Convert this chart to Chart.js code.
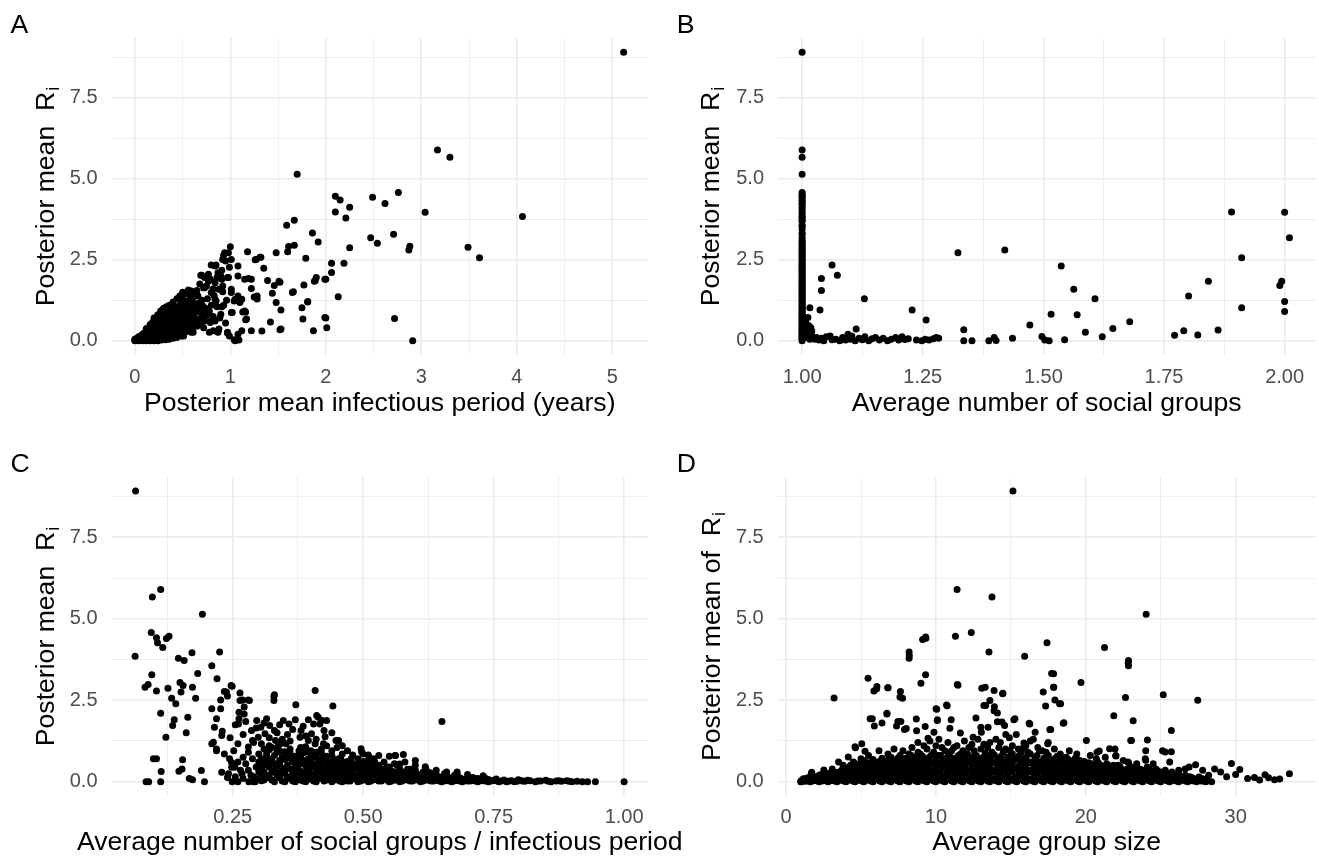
<!DOCTYPE html>
<html lang="en">

<head>
    <meta charset="UTF-8">
    <title>Posterior mean R_i scatter panels</title>
    <script src="https://cdn.jsdelivr.net/npm/chart.js"></script>
    <style>
        body { margin: 0; background: #ffffff; }
        #wrap { position: relative; width: 1319px; height: 859px; overflow: hidden; }
        #wrap canvas { position: absolute; }
    </style>
</head>

<body>
    <div id="wrap">
        <canvas id="panelA" width="660" height="430" style="left:0;top:0"></canvas>
        <canvas id="panelB" width="659" height="430" style="left:660px;top:0"></canvas>
        <canvas id="panelC" width="720" height="429" style="left:0;top:430px"></canvas>
        <canvas id="panelD" width="659" height="429" style="left:660px;top:430px"></canvas>
    </div>

    <script>
        // shared y axis (posterior mean R_i)
        const yMajor = [0, 2.5, 5, 7.5];
        const yMinor = [1.25, 3.75, 6.25, 8.75];
        const yLabels = ['0.0', '2.5', '5.0', '7.5'];

        // x axis ticks per panel
        const xMajorA = [0, 1, 2, 3, 4, 5];
        const xMinorA = [0.5, 1.5, 2.5, 3.5, 4.5];
        const xLabelsA = ['0', '1', '2', '3', '4', '5'];

        const xMajorB = [1, 1.25, 1.5, 1.75, 2];
        const xMinorB = [1.125, 1.375, 1.625, 1.875];
        const xLabelsB = ['1.00', '1.25', '1.50', '1.75', '2.00'];

        const xMajorC = [0.25, 0.5, 0.75, 1];
        const xMinorC = [0.125, 0.375, 0.625, 0.875];
        const xLabelsC = ['0.25', '0.50', '0.75', '1.00'];

        const xMajorD = [0, 10, 20, 30];
        const xMinorD = [5, 15, 25];
        const xLabelsD = ['0', '10', '20', '30'];

        // A: infectious period (years) vs R_i
        const ptsA = [
            [5.12,8.91],[3.17,5.89],[3.30,5.67],[1.70,5.14],[2.76,4.58],[2.49,4.43],[2.10,4.46],[2.15,4.35],[2.62,4.24],[2.25,4.12],
            [2.10,3.98],[3.04,3.97],[4.06,3.84],[2.21,3.79],[1.67,3.72],[1.59,3.57],[1.86,3.33],[2.71,3.29],[2.47,3.18],[2.54,3.01],
            [1.92,3.05],[1.67,2.95],[1.61,2.91],[2.88,2.92],[2.87,2.80],[3.49,2.89],[2.25,2.87],[1.60,2.75],[1.48,2.72],[3.61,2.56],
            [1.79,2.55],[1.31,2.58],[1.26,2.50],[1.18,2.75],[1.35,2.24],[2.06,2.39],[2.06,2.11],[2.00,1.90],[1.90,1.95],[1.89,1.86],
            [1.77,1.72],[1.66,1.51],[1.39,1.86],[1.46,1.71],[1.52,1.81],[1.44,1.47],[1.48,1.18],[1.53,0.95],[2.13,1.36],[1.81,1.21],
            [1.75,1.02],[1.76,0.67],[2.00,0.70],[2.01,0.40],[1.87,0.31],[2.72,0.69],[2.91,0.00],[1.42,0.58],[1.52,0.34],[1.33,0.30],
            [1.22,0.31],[1.19,1.92],[1.22,1.61],[1.25,1.35],[1.28,1.29],[1.13,0.89],[1.16,0.65],[1.12,0.31],[1.09,0.02],[1.04,0.03],
            [1.00,2.90],[0.98,2.72],[0.93,2.64],[1.08,2.31],[1.08,2.00],[0.99,2.27],[0.95,2.46],[0.80,2.34],[0.85,2.34],[0.69,2.02],
            [0.79,1.90],[0.86,1.95],[0.90,2.00],[0.97,1.95],[0.88,1.59],[0.92,1.69],[1.01,1.49],[1.08,1.33],[1.04,1.23],[1.10,1.18],
            [1.15,0.92],[1.01,0.87],[0.93,1.10],[0.85,1.23],[0.75,1.69],[0.72,1.64],[0.80,1.49],[0.71,1.08],[0.65,1.13],[0.59,1.54],
            [0.63,1.38],[0.56,1.49],[0.75,0.77],[0.84,0.61],[0.79,0.56],[0.72,0.67],[0.64,0.61],[0.61,0.77],[0.78,0.26],[0.88,0.36],
            [0.87,0.26],[0.97,0.26],[0.61,0.26],[0.51,0.15],[0.50,0.41],[0.44,0.92],[0.47,1.33],[0.53,0.87],[0.55,1.23],[0.40,0.10],
            [0.94,2.72],[0.92,2.51],[1.01,2.51],[0.84,2.31],[0.91,2.18],[0.87,2.10],[0.70,2.02],[0.77,1.84],[0.84,1.79],[0.91,1.90],
            [0.98,1.95],[1.15,1.90],[1.22,1.90],[1.32,2.58],[1.27,2.51],[1.51,1.84],[1.65,1.49],[1.81,1.20],[1.99,0.72],[1.88,1.84],
            [1.99,1.90],[2.19,2.39],[1.53,0.36],[1.17,0.67],[1.16,0.89],[1.28,1.38],[1.08,1.38],[1.12,1.28],[1.05,1.28],[1.02,0.87],
            [1.08,0.20],[1.05,0.00],[0.97,0.24],[0.99,0.15],[0.87,0.28],[0.82,0.31],[0.90,0.82],[0.91,1.05],[0.92,1.51],[1.01,1.59],
            [0.73,1.64],[0.84,1.28],[0.77,0.87],[0.70,0.87],[0.63,1.08],[0.66,1.38],[0.56,1.57],[0.59,1.28],[0.80,0.61],[0.73,0.61],
            [0.59,0.26],[0.49,0.15],[0.56,0.46],
            [0.52,0.25],[0.54,0.6],[0.57,0.3],[0.6,0.4],[0.62,0.9],[0.65,0.45],[0.67,1.0],[0.68,0.5],[0.7,1.25],[0.72,0.4],
            [0.74,1.0],[0.76,1.3],[0.78,0.9],[0.8,1.1],[0.82,0.75],[0.83,1.4],[0.86,1.05],[0.89,0.7],[0.95,0.55],[0.96,1.25],
            [0.62,1.5],[0.68,1.75],[0.73,1.95],[0.77,2.05],[0.82,1.6],[0.65,1.55],[0.58,1.4],[0.53,1.45],[0.5,1.5]
        ];
        // A: the dense wedge of short infectious periods near the origin
        const wedgeA = [
            [0,0],[0,0.02],[0,0.05],[0.02,0.01],[0.02,0.04],[0.02,0.08],[0.04,0],[0.04,0.06],[0.04,0.12],[0.06,0.02],
            [0.06,0.1],[0.06,0.15],[0.08,0],[0.08,0.05],[0.08,0.14],[0.08,0.2],[0.1,0.02],[0.1,0.1],[0.1,0.18],[0.1,0.25],
            [0.12,0],[0.12,0.08],[0.12,0.2],[0.12,0.3],[0.12,0.38],[0.14,0.03],[0.14,0.15],[0.14,0.26],[0.14,0.35],[0.16,0],
            [0.16,0.1],[0.16,0.22],[0.16,0.33],[0.16,0.42],[0.16,0.5],[0.18,0.05],[0.18,0.18],[0.18,0.3],[0.18,0.45],[0.18,0.55],
            [0.2,0],[0.2,0.12],[0.2,0.25],[0.2,0.38],[0.2,0.5],[0.2,0.62],[0.2,0.7],[0.22,0.04],[0.22,0.2],[0.22,0.33],
            [0.22,0.47],[0.22,0.6],[0.22,0.7],[0.24,0],[0.24,0.15],[0.24,0.28],[0.24,0.42],[0.24,0.55],[0.24,0.68],[0.24,0.8],
            [0.26,0.05],[0.26,0.22],[0.26,0.36],[0.26,0.5],[0.26,0.64],[0.26,0.78],[0.27,0.92],[0.28,0.02],[0.28,0.12],[0.28,0.3],
            [0.28,0.45],[0.28,0.6],[0.28,0.72],[0.3,0.08],[0.3,0.2],[0.3,0.38],[0.3,0.52],[0.3,0.67],[0.3,0.85],[0.3,1.0],
            [0.32,0.03],[0.32,0.15],[0.32,0.3],[0.32,0.46],[0.32,0.6],[0.32,0.75],[0.32,0.9],[0.33,1.05],[0.34,0.1],[0.34,0.25],
            [0.34,0.4],[0.34,0.55],[0.34,0.7],[0.34,0.82],[0.36,0.05],[0.36,0.18],[0.36,0.34],[0.36,0.5],[0.36,0.65],[0.36,0.8],
            [0.36,0.95],[0.36,1.1],[0.38,0.12],[0.38,0.28],[0.38,0.45],[0.38,0.6],[0.38,0.75],[0.38,0.9],[0.4,0.08],[0.4,0.22],
            [0.4,0.38],[0.4,0.55],[0.4,0.7],[0.4,0.85],[0.4,1.0],[0.4,1.2],[0.42,0.15],[0.42,0.32],[0.42,0.5],[0.42,0.66],
            [0.42,0.8],[0.42,0.95],[0.44,0.1],[0.44,0.26],[0.44,0.44],[0.44,0.6],[0.44,0.75],[0.44,1.05],[0.44,1.3],[0.46,0.2],
            [0.46,0.38],[0.46,0.55],[0.46,0.72],[0.46,0.88],[0.46,1.02],[0.47,1.38],[0.48,0.3],[0.48,0.48],[0.48,0.65],[0.48,0.82],
            [0.48,0.98],[0.48,1.15],[0.5,0.35],[0.5,0.6],[0.5,0.78],[0.5,0.95],[0.5,1.1],[0.5,1.3],[0.52,0.4],[0.52,0.7],
            [0.52,0.9],[0.52,1.05],[0.55,0.5],[0.55,0.75],[0.55,1.0],[0.55,1.2],[0.58,0.55],[0.58,0.85],[0.58,1.1],[0.6,0.6],
            [0.6,0.95],[0.6,1.25],[0.63,0.7],[0.63,1.0],[0.66,0.65],[0.66,0.9],[0.66,1.15],[0.7,0.8],[0.7,1.05],
            [0.03,0.03],[0.07,0.08],[0.11,0.14],[0.13,0.24],[0.15,0.08],[0.17,0.28],[0.19,0.38],[0.21,0.08],[0.23,0.35],[0.25,0.58],
            [0.27,0.15],[0.29,0.52],[0.31,0.78],[0.33,0.22],[0.35,0.62],[0.37,0.88],[0.39,0.35],[0.41,0.6],[0.43,0.88],[0.45,0.5]
        ];

        // B: average number of social groups vs R_i
        // the column of animals that stayed in one group (x = 1.00)
        const colBY = [
            0,0.03,0.06,0.1,0.13,0.17,0.2,0.24,0.27,0.31,0.35,0.38,0.42,0.46,0.5,0.54,0.58,0.62,0.66,0.7,
            0.74,0.78,0.82,0.86,0.9,0.95,0.99,1.03,1.08,1.12,1.16,1.21,1.25,1.3,1.34,1.39,1.43,1.48,1.52,1.57,
            1.61,1.66,1.7,1.75,1.8,1.84,1.89,1.94,1.98,2.03,2.08,2.13,2.17,2.22,2.27,2.32,2.36,2.41,2.46,2.51,
            2.56,2.61,2.66,2.71,2.75,2.8,2.85,2.9,2.95,3.0,3.04,3.1,3.18,3.29,3.33,3.45,3.54,3.57,3.69,3.72,
            3.79,3.84,3.92,3.98,4.05,4.12,4.2,4.24,4.31,4.35,4.43,4.46,4.52,4.58,5.14,5.67,5.89,8.91
        ];
        const ptsB = [
            [1.062,2.34],[1.040,1.92],[1.073,2.02],[1.040,1.55],[1.037,0.95],[1.016,1.02],[1.129,1.30],[1.112,0.36],[1.228,0.95],[1.257,0.64],
            [1.323,2.72],[1.335,0.34],[1.420,2.80],[1.537,2.31],[1.563,1.59],[1.570,0.80],[1.607,1.30],[1.516,0.82],[1.472,0.49],[1.587,0.26],
            [1.644,0.38],[1.679,0.59],[1.622,0.12],[1.544,0.03],[1.497,0.13],[1.503,0.02],[1.512,0.00],[1.436,0.08],[1.398,0.10],[1.402,0.01],
            [1.387,0.00],[1.352,0.00],[1.335,0.00],[1.772,0.17],[1.791,0.31],[1.801,1.38],[1.820,0.18],[1.842,1.84],[1.862,0.33],[1.890,3.98],
            [1.911,2.56],[1.911,1.02],[1.990,1.71],[1.994,1.84],[2.000,3.97],[2.000,1.21],[2.000,0.90],[2.010,3.18],
            [1.007,0.36],[1.014,0.46],[1.012,0.2],[1.021,0.15],[1.026,0.05],[1.005,0.1],[1.01,0.28],[1.018,0.4],[1.02,0.3],[1.008,0.55],
            [1.012,0.72],[1.016,0.05],[1.03,0.1],[1.035,0.02],[1.04,0.08],[1.045,0],[1.05,0.12],[1.058,0.15],[1.062,0.03],[1.07,0.05],
            [1.078,0],[1.084,0.1],[1.09,0.02],[1.095,0.2],[1.10,0.05],[1.103,0.15],[1.11,0],[1.118,0.08],[1.125,0.03],[1.13,0.12],
            [1.138,0],[1.145,0.06],[1.152,0.1],[1.16,0.02],[1.168,0.08],[1.177,0],[1.185,0.05],[1.194,0.1],[1.2,0.02],[1.207,0.12],
            [1.213,0.04],[1.22,0.06],[1.237,0.02],[1.248,0],[1.255,0.05],[1.263,0.02],[1.272,0.06],[1.278,0.1],[1.283,0.08]
        ];

        // C: social groups / infectious period vs R_i
        const ptsC = [
            [0.064,8.92],[0.112,5.90],[0.096,5.67],[0.192,5.14],[0.094,4.58],[0.104,4.42],[0.106,4.26],[0.116,4.12],[0.123,4.39],[0.128,4.46],
            [0.063,3.85],[0.225,3.98],[0.172,3.96],[0.146,3.79],[0.157,3.72],[0.210,3.56],[0.183,3.32],[0.095,3.28],[0.220,3.16],[0.082,2.90],
            [0.088,2.98],[0.126,2.87],[0.149,3.04],[0.155,2.95],[0.173,2.90],[0.104,2.78],[0.151,2.75],[0.133,2.56],[0.179,2.56],[0.141,2.39],
            [0.112,2.10],[0.210,2.24],[0.164,1.98],[0.138,1.90],[0.135,1.72],[0.161,1.50],[0.122,1.36],[0.098,0.70],[0.104,0.70],[0.154,0.67],
            [0.153,0.39],[0.147,0.32],[0.113,0.31],[0.084,0],[0.089,0],[0.112,0],[0.167,0.10],[0.173,0.06],[0.190,0.34],[0.196,0],
            [0.408,2.80],[0.371,2.36],[0.442,2.32],[0.651,1.85],[0.330,2.67],[0.329,2.49],[0.247,2.95],[0.264,2.72],[0.282,2.49],[0.269,2.51],
            [0.234,2.77],[0.240,2.63],[0.227,2.51],[0.227,2.24],[0.219,1.93],[0.215,1.67],[0.210,1.16],[0.219,0.95],[0.234,0.85],[0.244,0.70],
            [0.229,0.29],[0.240,0.13],[0.249,0],[0.254,0.44],[0.268,0.24],[0.281,0],[0.293,0],[0.305,0.03],[0.272,2.08],[0.262,1.93],
            [0.296,1.88],[0.304,1.67],[0.347,1.88],[0.312,1.47],[0.332,1.26],[0.336,1.06],[0.352,1.16],[0.288,1.26],[0.280,1.06],[0.260,1.16],
            [0.252,0.95],[0.381,1.57],[0.401,1.47],[0.405,1.77],[0.411,2.03],[0.421,1.88],[0.425,1.57],[0.427,1.38],[0.424,1.16],[0.448,1.26],
            [0.395,1.26],[0.390,1.06],[0.377,0.95],[0.362,0.75],[0.370,0.54],[0.320,0.64],[0.304,0.54],[0.288,0.70],[0.496,1.01],[0.497,0.92],
            [0.510,0.82],[0.522,0.62],[0.562,0.80],[0.577,0.83],[0.570,0.54],[0.477,0.70],[0.457,0.70],[0.619,0.46],
            [0.238,2.75],[0.249,2.93],[0.264,2.49],[0.28,2.51],[0.262,2.13],[0.272,2.29],[0.229,1.42],[0.213,1.21],[0.219,1.0],[0.248,0.59],
            [0.248,0.44],[0.242,0.24],[0.261,1.77],[0.286,1.57],[0.299,1.36],[0.305,1.16],[0.315,1.93],[0.329,2.62],[0.321,1.72],[0.33,1.57],
            [0.358,1.77],[0.379,1.36],[0.389,1.06],[0.408,1.16],[0.414,1.98],[0.417,1.77],[0.43,1.88],[0.453,1.26],[0.511,0.72],[0.52,0.52],
            [0.561,0.8],[0.59,0.38],[0.627,0.28],[0.656,0.25],[0.68,0.25],[0.71,0.13],[0.797,0.06],
            [0.23,1.55],[0.245,1.35],[0.255,1.75],[0.27,1.45],[0.275,1.85],[0.29,1.2],[0.295,1.65],[0.31,1.8],[0.32,1.35],[0.325,1.05],
            [0.335,1.5],[0.34,1.75],[0.345,1.3],[0.355,1.45],[0.36,1.25],[0.365,1.6],[0.37,1.9],[0.385,1.7],[0.39,1.4],[0.395,1.9],
            [0.41,1.3],[0.43,1.1],[0.44,1.5],[0.45,1.05],[0.46,1.1],[0.47,0.95],[0.5,0.85],[0.53,0.8],[0.55,0.78],[0.58,0.6],[0.6,0.65]
        ];
        // C: the dense band of low R_i
        const bandC = [
            [0.26,0.0],[0.27,0.1],[0.28,0.35],[0.29,0.15],[0.26,0.6],[0.28,0.9],[0.3,0.1],[0.31,0.3],[0.31,0.05],[0.32,0.45],
            [0.32,0.2],[0.33,0.0],[0.33,0.35],[0.33,0.8],[0.34,0.12],[0.34,0.55],[0.34,0.95],[0.35,0.25],[0.35,0.0],[0.35,0.68],
            [0.36,0.4],[0.36,0.1],[0.36,0.88],[0.37,0.2],[0.37,0.0],[0.37,0.6],[0.38,0.32],[0.38,0.05],[0.38,0.78],[0.39,0.15],
            [0.39,0.48],[0.39,0.0],[0.39,0.92],[0.4,0.25],[0.4,0.62],[0.4,0.08],[0.41,0.38],[0.41,0.0],[0.41,0.75],[0.42,0.18],
            [0.42,0.5],[0.42,0.88],[0.43,0.05],[0.43,0.3],[0.43,0.65],[0.44,0.15],[0.44,0.45],[0.44,0.0],[0.44,0.8],[0.45,0.25],
            [0.45,0.55],[0.45,0.08],[0.46,0.0],[0.46,0.35],[0.46,0.62],[0.47,0.15],[0.47,0.48],[0.47,0.02],[0.48,0.25],[0.48,0.55],
            [0.48,0.08],[0.49,0.38],[0.49,0.0],[0.49,0.7],[0.5,0.18],[0.5,0.45],[0.5,0.05],[0.51,0.3],[0.51,0.0],[0.51,0.58],
            [0.52,0.12],[0.52,0.4],[0.53,0.02],[0.53,0.25],[0.53,0.5],[0.54,0.1],[0.54,0.35],[0.55,0.0],[0.55,0.2],[0.55,0.45],
            [0.56,0.08],[0.56,0.3],[0.57,0.0],[0.57,0.18],[0.57,0.4],[0.58,0.1],[0.58,0.28],[0.59,0.02],[0.59,0.2],[0.6,0.12],
            [0.6,0.35],[0.61,0.0],[0.61,0.22],[0.62,0.08],[0.62,0.3],[0.63,0.02],[0.63,0.15],[0.64,0.06],[0.64,0.22],[0.65,0.0],
            [0.65,0.12],[0.66,0.05],[0.66,0.18],[0.67,0.0],[0.67,0.1],[0.68,0.04],[0.68,0.15],[0.69,0.0],[0.69,0.08],[0.7,0.12],
            [0.7,0.02],[0.71,0.05],[0.72,0.0],[0.72,0.1],[0.73,0.03],[0.74,0.07],[0.74,0.0],[0.75,0.04],[0.76,0.0],[0.77,0.05],
            [0.78,0.02],[0.79,0.0],[0.8,0.04],[0.81,0.01],[0.82,0.03],[0.83,0.0],[0.84,0.02],[0.85,0.04],[0.86,0.0],[0.87,0.02],
            [0.88,0.01],[0.89,0.03],[0.9,0.0],[0.91,0.01],[0.92,0.0],[0.93,0.0],[0.945,0.0],[1.0,0.0],
            [0.305,0.18],[0.305,0.42],[0.305,0.7],[0.315,0.12],[0.315,0.55],[0.315,0.85],[0.325,0.05],[0.325,0.3],[0.325,0.65],[0.335,0.2],
            [0.335,0.48],[0.335,0.9],[0.345,0.02],[0.345,0.35],[0.345,0.75],[0.355,0.15],[0.355,0.5],[0.355,0.85],[0.365,0.02],[0.365,0.28],
            [0.365,0.62],[0.375,0.1],[0.375,0.45],[0.375,0.72],[0.385,0.02],[0.385,0.22],[0.385,0.6],[0.385,0.88],[0.395,0.08],[0.395,0.35],
            [0.395,0.7],[0.405,0.02],[0.405,0.15],[0.405,0.48],[0.405,0.82],[0.415,0.1],[0.415,0.28],[0.415,0.6],[0.425,0.02],[0.425,0.4],
            [0.425,0.72],[0.435,0.12],[0.435,0.2],[0.435,0.52],[0.445,0.05],[0.445,0.32],[0.445,0.62],[0.455,0.02],[0.455,0.15],[0.455,0.42],
            [0.455,0.72],[0.465,0.08],[0.465,0.25],[0.465,0.52],[0.475,0.02],[0.475,0.35],[0.475,0.6],[0.485,0.15],[0.485,0.45],[0.495,0.02],
            [0.495,0.28],[0.495,0.58],[0.505,0.1],[0.505,0.38],[0.515,0.02],[0.515,0.2],[0.515,0.45],[0.525,0.06],[0.525,0.3],[0.535,0.02],
            [0.535,0.15],[0.535,0.38],[0.545,0.05],[0.545,0.25],[0.545,0.45],[0.555,0.02],[0.555,0.12],[0.555,0.32],[0.565,0.04],[0.565,0.22],
            [0.565,0.5],[0.575,0.02],[0.575,0.1],[0.575,0.3],[0.585,0.05],[0.585,0.15],[0.585,0.38],[0.595,0.02],[0.595,0.1],[0.595,0.28],
            [0.605,0.05],[0.605,0.18],[0.615,0.02],[0.615,0.12],[0.615,0.3],[0.625,0.04],[0.625,0.2],[0.635,0.02],[0.635,0.08],[0.635,0.25],
            [0.645,0.03],[0.645,0.15],[0.655,0.02],[0.655,0.08],[0.655,0.18],[0.665,0.02],[0.665,0.12],[0.675,0.03],[0.675,0.08],[0.675,0.2],
            [0.685,0.02],[0.685,0.12],[0.695,0.03],[0.695,0.06],[0.705,0.02],[0.705,0.08],[0.715,0.02],[0.715,0.1],[0.725,0.04],[0.725,0.06],
            [0.735,0.02],[0.735,0.1],[0.745,0.02],[0.755,0.03],[0.755,0.08],[0.765,0.02],[0.775,0.0],[0.785,0.03],[0.795,0.01],[0.805,0.02],
            [0.815,0.04],[0.835,0.02],[0.855,0.01],[0.875,0.03],[0.895,0.01],
            [0.255,0.15],[0.265,0.35],[0.275,0.55],[0.285,0.2],[0.295,0.45],[0.29,0.0],[0.3,0.3],[0.27,0.75],[0.3,0.85],[0.31,1.0],
            [0.32,1.1],[0.34,1.15],[0.36,1.0],[0.38,1.05],[0.4,0.95],[0.42,1.0],[0.44,0.95],[0.46,0.85],[0.48,0.82],[0.5,0.62],
            [0.52,0.7],[0.54,0.6],[0.56,0.55],[0.6,0.5],[0.62,0.4],[0.64,0.35],[0.66,0.3],[0.68,0.3],[0.7,0.22],[0.73,0.18],
            [0.3,0.6],[0.31,0.5],[0.32,0.7],[0.33,0.55],[0.34,0.28],[0.35,0.42],[0.36,0.72],[0.37,0.4],[0.37,0.78],[0.38,0.18],
            [0.38,0.55],[0.39,0.3],[0.39,0.65],[0.4,0.45],[0.4,0.78],[0.41,0.2],[0.41,0.55],[0.42,0.35],[0.42,0.68],[0.43,0.15],
            [0.43,0.48],[0.43,0.78],[0.44,0.3],[0.44,0.6],[0.45,0.4],[0.45,0.68],[0.46,0.18],[0.46,0.5],[0.47,0.3],[0.47,0.62],
            [0.48,0.4],[0.49,0.18],[0.49,0.52],[0.5,0.3],[0.51,0.15],[0.51,0.45],[0.52,0.25],[0.53,0.38],[0.54,0.22],[0.55,0.32],
            [0.56,0.18],[0.57,0.28],[0.58,0.2],[0.6,0.25],[0.32,0.98],[0.35,0.92],[0.38,0.98],[0.41,0.9],[0.31,0.7],[0.34,0.65]
        ];

        // D: average group size vs R_i
        const ptsD = [
            [15.14,8.92],[11.41,5.90],[13.74,5.67],[24.03,5.14],[12.36,4.58],[11.30,4.46],[9.31,4.44],[9.11,4.36],[17.41,4.26],[21.25,4.12],
            [13.54,3.98],[8.21,3.98],[8.21,3.79],[15.92,3.85],[22.85,3.72],[22.85,3.56],[17.72,3.32],[9.31,3.28],[5.47,3.17],[19.68,3.04],
            [9.0,3.02],[11.47,2.96],[6.06,2.92],[6.81,2.88],[13.06,2.87],[17.86,2.90],[5.86,2.78],[13.29,2.90],[13.88,2.80],[7.63,2.77],
            [17.16,2.75],[14.47,2.71],[25.17,2.67],[3.20,2.57],[7.77,2.56],[22.65,2.58],[17.94,2.51],[27.47,2.50],[13.60,2.49],[13.32,2.34],
            [18.25,2.39],[17.32,2.32],[10.71,2.35],[10.01,2.24],[13.88,2.18],[14.10,2.11],[21.87,2.02],[23.16,1.87],[18.50,1.79],[16.26,1.77],
            [12.67,1.95],[15.20,1.90],[14.41,1.83],[14.58,1.72],[11.02,1.90],[10.09,1.88],[8.69,1.92],[8.02,1.63],[7.66,1.85],[7.37,1.71],
            [6.73,2.08],[5.89,1.71],[5.61,1.93],[9.28,1.69],[9.87,1.52],[10.93,1.64],[11.63,1.49],[12.48,1.36],[13.03,1.52],[13.48,1.67],
            [14.66,1.45],[15.36,1.45],[15.87,1.19],[16.62,1.52],[17.66,1.60],[17.46,1.16],[20.04,1.26],[21.59,1.01],[22.01,0.79],[23.05,1.26],
            [24.11,1.28],[23.97,0.70],[25.71,1.57],[25.12,0.95],[25.71,0.92],[22.85,0.59],[20.75,0.90],[26.63,0.39],[27.33,0.52],[28.6,0.39],
            [29.72,0.56],[30.28,0.37],[31.26,0.13],[31.96,0.21],[32.60,0.06],[32.94,0.08],[33.59,0.24],[30.8,0.1],[31.6,0.05],[32.2,0.12],
            [29.0,0.3],[29.4,0.15],[30.0,0.22],[28.2,0.2],[27.8,0.35],[4.63,1.04],[5.05,1.16],[5.27,0.93],[4.49,0.59],[3.92,0.39],
            [3.08,0.39],[2.52,0.36],[1.68,0.24],[0.98,0],
            [5.75,1.93],[6.73,2.1],[6.4,1.8],[7.46,1.85],[7.9,1.6],[8.71,1.56],[10.05,2.22],[10.75,2.33],[10.1,1.9],[9.47,1.33],
            [4.6,1.07],[4.15,0.76],[3.5,0.6],[1.71,0.29],[6.04,2.85],[6.78,2.88],[7.6,2.6],[8.22,3.87],[9.33,4.40],[11.43,2.98],
            [22.83,3.65],[17.85,3.31],[17.85,2.9],[18.32,2.39],[13.2,2.34],[14.45,2.7],[13.9,2.3],[14.1,1.84],[13.0,1.67],[15.27,1.93],
            [18.54,1.81],[16.22,1.79],[17.49,1.2],[17.6,1.6],[20.9,0.94],[21.95,1.0],[22.0,0.8],[23.0,1.26],[24.0,0.95],[24.0,0.66],
            [22.8,0.6],[25.3,0.91],[25.6,0.6],[26.9,0.45],
            [5.5,0.8],[6.2,0.95],[6.8,0.85],[7.2,1.0],[7.8,0.95],[8.4,1.05],[8.8,1.2],[9.2,1.1],[9.6,1.25],[10.2,1.3],
            [10.4,1.05],[10.8,1.2],[11.4,1.1],[11.9,1.25],[12.2,1.05],[12.8,1.3],[13.2,1.15],[14.0,1.3],[14.3,1.2],[14.9,1.35],
            [15.5,1.0],[16.0,1.1],[16.5,1.3],[16.8,1.05],[17.1,0.95],[17.9,1.0],[18.3,0.85],[18.9,0.95],[19.4,0.85],[20.3,0.8],
            [20.7,0.7],[21.3,0.75],[22.5,0.65],[23.4,0.55],[24.5,0.55],[26.2,0.35],[5.0,0.7],[4.5,0.6],[3.8,0.5]
        ];
        // D: the dense band of low R_i across group sizes
        const bandD = [
            [1.0,0],[1.0,0.03],[1.3,0.01],[1.3,0.08],[1.6,0],[1.6,0.1],[1.9,0.04],[1.9,0.15],[2.2,0],[2.2,0.08],
            [2.2,0.2],[2.5,0.03],[2.5,0.14],[2.8,0],[2.8,0.1],[2.8,0.25],[3.1,0.05],[3.1,0.18],[3.1,0.3],[3.4,0],
            [3.4,0.12],[3.4,0.28],[3.7,0.04],[3.7,0.2],[3.7,0.35],[4.0,0],[4.0,0.1],[4.0,0.25],[4.0,0.42],[4.3,0.06],
            [4.3,0.18],[4.3,0.35],[4.3,0.5],[4.6,0],[4.6,0.12],[4.6,0.28],[4.6,0.45],[4.9,0.04],[4.9,0.2],[4.9,0.38],
            [4.9,0.55],[5.2,0],[5.2,0.1],[5.2,0.3],[5.2,0.48],[5.2,0.65],[5.5,0.05],[5.5,0.22],[5.5,0.4],[5.5,0.58],
            [5.8,0],[5.8,0.15],[5.8,0.32],[5.8,0.5],[5.8,0.68],[6.1,0.08],[6.1,0.25],[6.1,0.42],[6.1,0.6],[6.4,0],
            [6.4,0.18],[6.4,0.35],[6.4,0.52],[6.4,0.72],[6.7,0.05],[6.7,0.28],[6.7,0.45],[6.7,0.62],[7.0,0],[7.0,0.15],
            [7.0,0.38],[7.0,0.55],[7.0,0.75],[7.3,0.08],[7.3,0.25],[7.3,0.48],[7.3,0.65],[7.6,0],[7.6,0.18],[7.6,0.4],
            [7.6,0.58],[7.6,0.8],[7.9,0.05],[7.9,0.3],[7.9,0.5],[7.9,0.7],[8.2,0],[8.2,0.15],[8.2,0.42],[8.2,0.62],
            [8.2,0.85],[8.5,0.08],[8.5,0.28],[8.5,0.52],[8.5,0.75],[8.8,0],[8.8,0.2],[8.8,0.4],[8.8,0.65],[8.8,0.9],
            [9.1,0.05],[9.1,0.3],[9.1,0.55],[9.1,0.78],[9.4,0],[9.4,0.15],[9.4,0.45],[9.4,0.68],[9.4,1.0],[9.7,0.08],
            [9.7,0.32],[9.7,0.58],[9.7,0.82],[10.0,0],[10.0,0.2],[10.0,0.45],[10.0,0.7],[10.0,1.1],[10.3,0.05],[10.3,0.3],
            [10.3,0.55],[10.3,0.8],[10.6,0],[10.6,0.15],[10.6,0.42],[10.6,0.68],[10.6,0.95],[10.9,0.1],[10.9,0.35],[10.9,0.6],
            [10.9,0.85],[11.2,0],[11.2,0.22],[11.2,0.48],[11.2,0.72],[11.2,1.05],[11.5,0.06],[11.5,0.3],[11.5,0.55],[11.5,0.8],
            [11.8,0],[11.8,0.18],[11.8,0.45],[11.8,0.7],[11.8,0.95],[12.1,0.08],[12.1,0.35],[12.1,0.6],[12.1,0.85],[12.4,0],
            [12.4,0.2],[12.4,0.48],[12.4,0.75],[12.4,1.15],[12.7,0.05],[12.7,0.3],[12.7,0.55],[12.7,0.8],[13.0,0],[13.0,0.15],
            [13.0,0.42],[13.0,0.68],[13.0,1.0],[13.3,0.1],[13.3,0.35],[13.3,0.6],[13.3,0.88],[13.6,0],[13.6,0.22],[13.6,0.5],
            [13.6,0.75],[13.6,1.2],[13.9,0.05],[13.9,0.3],[13.9,0.58],[13.9,0.82],[14.2,0],[14.2,0.18],[14.2,0.45],[14.2,0.7],
            [14.2,1.05],[14.5,0.08],[14.5,0.35],[14.5,0.6],[14.5,0.9],[14.8,0],[14.8,0.2],[14.8,0.5],[14.8,0.75],[15.1,0.05],
            [15.1,0.3],[15.1,0.55],[15.1,0.85],[15.1,1.1],[15.4,0],[15.4,0.15],[15.4,0.42],[15.4,0.7],[15.7,0.1],[15.7,0.35],
            [15.7,0.6],[15.7,0.92],[16.0,0],[16.0,0.22],[16.0,0.5],[16.0,0.75],[16.3,0.05],[16.3,0.3],[16.3,0.58],[16.3,0.85],
            [16.3,1.25],[16.6,0],[16.6,0.18],[16.6,0.45],[16.6,0.7],[16.9,0.08],[16.9,0.35],[16.9,0.6],[16.9,0.95],[17.2,0],
            [17.2,0.2],[17.2,0.48],[17.2,0.72],[17.5,0.05],[17.5,0.3],[17.5,0.55],[17.5,0.8],[17.8,0],[17.8,0.15],[17.8,0.42],
            [17.8,0.65],[18.1,0.1],[18.1,0.35],[18.1,0.58],[18.1,0.78],[18.4,0],[18.4,0.22],[18.4,0.48],[18.4,0.7],[18.7,0.05],
            [18.7,0.3],[18.7,0.55],[18.7,0.75],[19.0,0],[19.0,0.18],[19.0,0.4],[19.0,0.62],[19.3,0.08],[19.3,0.3],[19.3,0.52],
            [19.3,0.72],[19.6,0],[19.6,0.2],[19.6,0.45],[19.6,0.65],[19.9,0.05],[19.9,0.28],[19.9,0.5],[19.9,0.62],[20.2,0],
            [20.2,0.15],[20.2,0.38],[20.2,0.58],[20.5,0.08],[20.5,0.3],[20.5,0.5],[20.8,0],[20.8,0.2],[20.8,0.42],[20.8,0.6],
            [21.1,0.05],[21.1,0.25],[21.1,0.45],[21.4,0],[21.4,0.15],[21.4,0.38],[21.4,0.55],[21.7,0.08],[21.7,0.3],[21.7,0.48],
            [22.0,0],[22.0,0.2],[22.0,0.4],[22.3,0.05],[22.3,0.25],[22.3,0.45],[22.6,0],[22.6,0.15],[22.6,0.35],[22.9,0.08],
            [22.9,0.28],[22.9,0.42],[23.2,0],[23.2,0.18],[23.2,0.35],[23.5,0.05],[23.5,0.25],[23.5,0.4],[23.8,0],[23.8,0.15],
            [23.8,0.32],[24.1,0.08],[24.1,0.25],[24.1,0.45],[24.4,0],[24.4,0.18],[24.4,0.3],[24.7,0.05],[24.7,0.22],[24.7,0.38],
            [25.0,0],[25.0,0.12],[25.0,0.28],[25.3,0.06],[25.3,0.2],[25.3,0.35],[25.6,0],[25.6,0.1],[25.6,0.25],[25.9,0.04],
            [25.9,0.15],[26.2,0],[26.2,0.1],[26.2,0.22],[26.5,0.05],[26.5,0.15],[26.8,0],[26.8,0.08],[27.1,0.03],[27.1,0.12],
            [27.4,0],[27.4,0.06],[27.7,0.02],[27.7,0.1],[28.0,0],[28.0,0.05],
            [1.15,0.02],[1.15,0.09],[1.45,0.04],[1.45,0.12],[1.75,0.02],[1.75,0.1],[2.05,0.03],[2.05,0.12],[2.35,0.02],[2.35,0.12],
            [2.35,0.22],[2.65,0.05],[2.65,0.2],[2.95,0.03],[2.95,0.15],[3.25,0.02],[3.25,0.1],[3.25,0.24],[3.55,0.06],[3.55,0.2],
            [3.55,0.3],[3.85,0.02],[3.85,0.12],[3.85,0.28],[4.15,0.05],[4.15,0.2],[4.15,0.33],[4.45,0.02],[4.45,0.1],[4.45,0.25],
            [4.45,0.42],[4.75,0.06],[4.75,0.2],[4.75,0.35],[5.05,0.02],[5.05,0.14],[5.05,0.28],[5.05,0.45],[5.35,0.08],[5.35,0.2],
            [5.35,0.35],[5.35,0.52],[5.65,0.02],[5.65,0.12],[5.65,0.3],[5.65,0.45],[5.95,0.06],[5.95,0.22],[5.95,0.4],[5.95,0.58],
            [6.25,0.02],[6.25,0.14],[6.25,0.3],[6.25,0.48],[6.25,0.62],[6.55,0.08],[6.55,0.22],[6.55,0.4],[6.55,0.55],[6.85,0.02],
            [6.85,0.14],[6.85,0.32],[6.85,0.5],[6.85,0.68],[7.15,0.06],[7.15,0.25],[7.15,0.42],[7.15,0.6],[7.45,0.02],[7.45,0.12],
            [7.45,0.35],[7.45,0.55],[7.45,0.72],[7.75,0.08],[7.75,0.25],[7.75,0.45],[7.75,0.65],[8.05,0.02],[8.05,0.12],[8.05,0.3],
            [8.05,0.52],[8.05,0.72],[8.35,0.06],[8.35,0.22],[8.35,0.4],[8.35,0.6],[8.35,0.8],[8.65,0.02],[8.65,0.12],[8.65,0.3],
            [8.65,0.52],[8.65,0.72],[8.95,0.08],[8.95,0.22],[8.95,0.42],[8.95,0.65],[8.95,0.85],[9.25,0.02],[9.25,0.15],[9.25,0.38],
            [9.25,0.6],[9.55,0.06],[9.55,0.25],[9.55,0.5],[9.55,0.75],[9.85,0.02],[9.85,0.12],[9.85,0.35],[9.85,0.58],[9.85,0.9],
            [10.15,0.08],[10.15,0.25],[10.15,0.5],[10.15,0.8],[10.45,0.02],[10.45,0.15],[10.45,0.42],[10.45,0.65],[10.75,0.06],[10.75,0.25],
            [10.75,0.5],[10.75,0.75],[11.05,0.02],[11.05,0.12],[11.05,0.38],[11.05,0.6],[11.05,0.95],[11.35,0.08],[11.35,0.25],[11.35,0.42],
            [11.35,0.65],[11.65,0.02],[11.65,0.12],[11.65,0.35],[11.65,0.6],[11.65,0.85],[11.95,0.06],[11.95,0.25],[11.95,0.5],[11.95,0.75],
            [12.25,0.02],[12.25,0.12],[12.25,0.35],[12.25,0.62],[12.55,0.08],[12.55,0.25],[12.55,0.42],[12.55,0.68],[12.55,0.95],[12.85,0.02],
            [12.85,0.15],[12.85,0.38],[12.85,0.6],[13.15,0.06],[13.15,0.25],[13.15,0.5],[13.15,0.75],[13.45,0.02],[13.45,0.12],[13.45,0.42],
            [13.45,0.7],[13.45,1.05],[13.75,0.08],[13.75,0.35],[13.75,0.62],[13.75,0.9],[14.05,0.02],[14.05,0.12],[14.05,0.4],[14.05,0.62],
            [14.35,0.06],[14.35,0.25],[14.35,0.5],[14.35,0.78],[14.65,0.02],[14.65,0.12],[14.65,0.38],[14.65,0.62],[14.65,1.0],[14.95,0.08],
            [14.95,0.35],[14.95,0.62],[14.95,0.95],[15.25,0.02],[15.25,0.12],[15.25,0.42],[15.25,0.68],[15.55,0.06],[15.55,0.25],[15.55,0.5],
            [15.55,0.8],[15.85,0.02],[15.85,0.15],[15.85,0.42],[15.85,0.7],[15.85,1.05],[16.15,0.08],[16.15,0.35],[16.15,0.62],[16.15,0.9],
            [16.45,0.02],[16.45,0.1],[16.45,0.38],[16.45,0.58],[16.75,0.06],[16.75,0.25],[16.75,0.5],[16.75,0.8],[17.05,0.02],[17.05,0.12],
            [17.05,0.38],[17.05,0.6],[17.35,0.08],[17.35,0.25],[17.35,0.42],[17.35,0.65],[17.35,0.9],[17.65,0.02],[17.65,0.12],[17.65,0.35],
            [17.65,0.58],[17.95,0.06],[17.95,0.25],[17.95,0.5],[17.95,0.72],[18.25,0.02],[18.25,0.12],[18.25,0.35],[18.25,0.6],[18.55,0.08],
            [18.55,0.25],[18.55,0.42],[18.55,0.62],[18.85,0.02],[18.85,0.12],[18.85,0.3],[18.85,0.5],[18.85,0.68],[19.15,0.06],[19.15,0.22],
            [19.15,0.42],[19.15,0.58],[19.45,0.02],[19.45,0.12],[19.45,0.35],[19.45,0.55],[19.75,0.08],[19.75,0.22],[19.75,0.38],[19.75,0.52],
            [20.05,0.02],[20.05,0.1],[20.05,0.28],[20.05,0.48],[20.35,0.06],[20.35,0.2],[20.35,0.4],[20.35,0.55],[20.65,0.02],[20.65,0.12],
            [20.65,0.3],[20.65,0.5],[20.95,0.08],[20.95,0.18],[20.95,0.35],[20.95,0.52],[21.25,0.02],[21.25,0.1],[21.25,0.3],[21.25,0.48],
            [21.55,0.06],[21.55,0.22],[21.55,0.42],[21.85,0.02],[21.85,0.12],[21.85,0.35],[21.85,0.5],[22.15,0.08],[22.15,0.3],[22.15,0.5],
            [22.45,0.02],[22.45,0.12],[22.45,0.35],[22.75,0.06],[22.75,0.2],[22.75,0.38],[23.05,0.02],[23.05,0.1],[23.05,0.28],[23.05,0.45],
            [23.35,0.06],[23.35,0.15],[23.35,0.3],[23.65,0.02],[23.65,0.1],[23.65,0.22],[23.65,0.38],[23.95,0.05],[23.95,0.18],[23.95,0.35],
            [24.25,0.02],[24.25,0.12],[24.25,0.28],[24.25,0.4],[24.55,0.06],[24.55,0.15],[24.55,0.3],[24.85,0.02],[24.85,0.1],[24.85,0.22],
            [24.85,0.32],[25.15,0.05],[25.15,0.15],[25.15,0.3],[25.45,0.02],[25.45,0.1],[25.45,0.2],[25.75,0.05],[25.75,0.18],[25.75,0.3],
            [26.05,0.02],[26.05,0.1],[26.05,0.2],[26.35,0.05],[26.35,0.15],[26.65,0.02],[26.65,0.1],[26.65,0.2],[26.95,0.05],[26.95,0.15],
            [27.25,0.02],[27.25,0.08],[27.55,0.04],[27.55,0.14],[27.85,0.02],[27.85,0.08],[28.15,0.03],[28.4,0.0]
        ];

        const FONT = '"Liberation Sans", Arial, Helvetica, sans-serif';
        const tickFont = { family: FONT, size: 20 };
        const TITLE_PX = 26.6;

        // draws panel letter, x title and y title (with subscript i)
        const panelText = {
            id: 'panelText',
            afterDraw(chart, args, o) {
                const { ctx, chartArea } = chart;
                const big = TITLE_PX + 'px ' + FONT;
                const small = '18px ' + FONT;
                ctx.save();
                ctx.fillStyle = '#000000';
                ctx.font = big;
                ctx.textBaseline = 'alphabetic';
                ctx.textAlign = 'left';
                ctx.fillText(o.letter, o.letterX, o.letterY);

                ctx.textAlign = 'center';
                ctx.fillText(o.xTitle, (chartArea.left + chartArea.right) / 2, chartArea.bottom + o.xTitleGap);

                ctx.translate(o.yTitleX, (chartArea.top + chartArea.bottom) / 2);
                ctx.rotate(-Math.PI / 2);
                ctx.textAlign = 'left';
                const w1 = ctx.measureText(o.yTitle).width;
                ctx.font = small;
                const w2 = ctx.measureText('i').width;
                const x0 = -(w1 + w2 + 1) / 2;
                ctx.font = big;
                ctx.fillText(o.yTitle, x0, 0);
                ctx.font = small;
                ctx.fillText('i', x0 + w1 + 1, 5);
                ctx.restore();
            }
        };

        function tickSetup(major, minor, labels) {
            const all = major.concat(minor).sort((a, b) => a - b);
            const names = {};
            major.forEach((v, i) => { names[v.toFixed(3)] = labels[i]; });
            return {
                build: s => { s.ticks = all.map(v => ({ value: v })); },
                label: v => names[Number(v).toFixed(3)] || '',
                width: c => (c.tick && names[c.tick.value.toFixed(3)] !== undefined) ? 1.6 : 0.8
            };
        }

        function makePanel(p) {
            const xt = tickSetup(p.xMajor, p.xMinor, p.xLabels);
            const yt = tickSetup(yMajor, yMinor, yLabels);
            new Chart(document.getElementById(p.id), {
                type: 'scatter',
                data: {
                    datasets: [{
                        data: p.points.map(([x, y]) => ({ x, y })),
                        backgroundColor: '#000000',
                        borderColor: '#000000',
                        borderWidth: 0,
                        pointRadius: 3.5,
                        pointHoverRadius: 3.5
                    }]
                },
                options: {
                    responsive: false,
                    animation: false,
                    devicePixelRatio: 1,
                    events: [],
                    layout: { padding: { left: 0, top: p.padTop, right: p.padRight, bottom: 0 } },
                    plugins: {
                        legend: { display: false },
                        tooltip: { enabled: false },
                        panelText: p.text
                    },
                    scales: {
                        x: {
                            type: 'linear',
                            min: p.xMin,
                            max: p.xMax,
                            afterBuildTicks: xt.build,
                            afterFit: s => { s.height = p.xHeight; },
                            ticks: { autoSkip: false, maxRotation: 0, padding: p.xTickPad, color: '#4d4d4d', font: tickFont, callback: xt.label },
                            grid: { color: '#ebebeb', lineWidth: xt.width, drawTicks: false },
                            border: { display: false }
                        },
                        y: {
                            type: 'linear',
                            min: -0.44,
                            max: 9.35,
                            afterBuildTicks: yt.build,
                            afterFit: s => { s.width = p.yWidth; },
                            ticks: { autoSkip: false, padding: 14, color: '#4d4d4d', font: tickFont, callback: yt.label },
                            grid: { color: '#ebebeb', lineWidth: yt.width, drawTicks: false },
                            border: { display: false }
                        }
                    }
                },
                plugins: [panelText]
            });
        }

        makePanel({
            id: 'panelA', points: ptsA.concat(wedgeA), xMin: -0.245, xMax: 5.375,
            xMajor: xMajorA, xMinor: xMinorA, xLabels: xLabelsA,
            padTop: 38, padRight: 12, yWidth: 111.5, xHeight: 75, xTickPad: 10,
            text: { letter: 'A', letterX: 10.5, letterY: 33, xTitle: 'Posterior mean infectious period (years)', xTitleGap: 56, yTitle: 'Posterior mean  R', yTitleX: 54 }
        });
        makePanel({
            id: 'panelB', points: colBY.map(y => [1, y]).concat(ptsB), xMin: 0.95, xMax: 2.064,
            xMajor: xMajorB, xMinor: xMinorB, xLabels: xLabelsB,
            padTop: 38, padRight: 2.5, yWidth: 118, xHeight: 75, xTickPad: 10,
            text: { letter: 'B', letterX: 16.8, letterY: 33, xTitle: 'Average number of social groups', xTitleGap: 56, yTitle: 'Posterior mean  R', yTitleX: 59 }
        });
        makePanel({
            id: 'panelC', points: ptsC.concat(bandC), xMin: 0.0178, xMax: 1.0458,
            xMajor: xMajorC, xMinor: xMinorC, xLabels: xLabelsC,
            padTop: 47, padRight: 72, yWidth: 111.5, xHeight: 63, xTickPad: 9,
            text: { letter: 'C', letterX: 10.5, letterY: 41.5, xTitle: 'Average number of social groups / infectious period', xTitleGap: 54, yTitle: 'Posterior mean  R', yTitleX: 54 }
        });
        makePanel({
            id: 'panelD', points: ptsD.concat(bandD), xMin: -0.56, xMax: 35.33,
            xMajor: xMajorD, xMinor: xMinorD, xLabels: xLabelsD,
            padTop: 47, padRight: 3.3, yWidth: 117.7, xHeight: 63, xTickPad: 9,
            text: { letter: 'D', letterX: 16.8, letterY: 41.5, xTitle: 'Average group size', xTitleGap: 54, yTitle: 'Posterior mean of  R', yTitleX: 60 }
        });
    </script>
</body>

</html>
